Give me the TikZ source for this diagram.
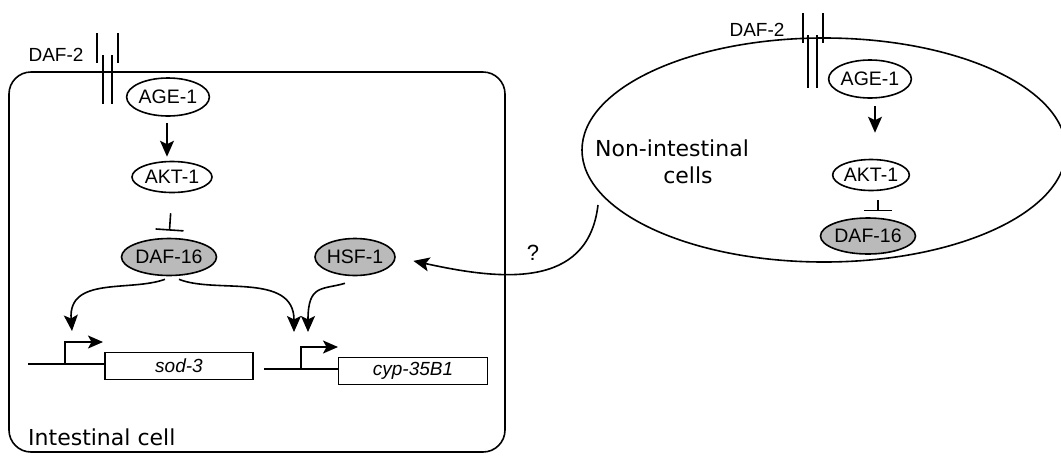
\documentclass[tikz,border=0pt]{standalone}
\usepackage{fontspec}
\setmainfont{Liberation Sans}
\newfontfamily\cellfont{DejaVu Sans}
\usetikzlibrary{shapes.geometric,arrows.meta,calc}
\begin{document}
\begin{tikzpicture}[x=1pt,y=-1pt,
  lw/.style={line width=1.6pt},
  prot/.style={ellipse,draw,lw,inner sep=0pt,font=\fontsize{19.5}{22}\selectfont},
  act/.style={lw,-{Stealth[length=16pt,width=14pt,inset=3.5pt]}},
  inh/.style={lw,-{Bar[width=28pt]}},
  gene/.style={rectangle,draw,lw,inner sep=0pt,font=\fontsize{19}{22}\selectfont\itshape},
  cellname/.style={font=\cellfont\fontsize{22}{24}\selectfont,inner sep=0pt},
  lab/.style={font=\fontsize{19}{22}\selectfont,inner sep=0pt},
  dafgray/.style={fill=black!27}]
\useasboundingbox (0,0) rectangle (1061,456);
% intestinal cell
\draw[lw,rounded corners=22pt] (9,72) rectangle (505,452);
\node[cellname,anchor=west] (intlab) at (28,437) {Intestinal cell};
% non-intestinal cells
\node[ellipse,draw,lw,minimum width=484pt,minimum height=224pt,inner sep=0pt] (nonint) at (824,150) {};
\node[cellname] (nonlab1) at (672,148) {Non-intestinal};
\node[cellname] (nonlab2) at (688,175) {cells};
% receptors
\draw[lw] (97,33) -- (97,63) (118,33) -- (118,63) (103,55) -- (103,104) (112,55) -- (112,104);
\draw[lw] (803,13) -- (803,43) (823,13) -- (823,43) (808,35) -- (808,88) (817,35) -- (817,88);
\node[lab] (daf2L) at (56,55) {DAF-2};
\node[lab] (daf2R) at (757,30) {DAF-2};
% left pathway
\node[prot,minimum width=82pt,minimum height=38pt] (age1L) at (168,97) {AGE-1};
\node[prot,minimum width=80pt,minimum height=31pt] (akt1L) at (172,177) {AKT-1};
\node[prot,dafgray,minimum width=74pt,minimum height=37pt] (daf16L) at (169,257) {DAF-16};
\node[prot,dafgray,minimum width=80pt,minimum height=37pt] (hsf1) at (355,257) {HSF-1};
\draw[act,shorten <=6pt,shorten >=4pt] (age1L.south -| 167,0) -- (akt1L.north -| 167,0);
\draw[inh,shorten <=20pt,shorten >=7pt] (akt1L.south) -- (daf16L.north);
% genes
\node[gene,minimum width=148pt,minimum height=27pt] (sod3) at (179,366) {sod-3};
\node[gene,minimum width=149pt,minimum height=27pt] (cyp) at (413,371) {cyp-35B1};
\coordinate (sodL) at (28,364);
\coordinate (cypL) at (264,369);
\draw[lw] (sodL) -- (sod3.west |- sodL);
\draw[lw] (cypL) -- (cyp.west |- cypL);
\coordinate (sodP) at (65,364);
\coordinate (cypP) at (301,369);
\draw[lw,-{Stealth[length=15pt,width=13pt,inset=3.5pt]}] (sodP) -- (65,342) -- (103,342);
\draw[lw,-{Stealth[length=15pt,width=13pt,inset=3.5pt]}] (cypP) -- (301,347) -- (338,347);
% regulation curves
\coordinate (dL) at ($(daf16L.south)+(-4,3)$);
\coordinate (dR) at ($(daf16L.south)+(10,3)$);
\coordinate (hS) at ($(hsf1.south)+(-10,7)$);
\coordinate (sodT) at (72,331);
\coordinate (cypT1) at (294,332);
\coordinate (cypT2) at (308,332);
\draw[act] (dL) .. controls (130,292) and (68,276) .. (sodT);
\draw[act] (dR) .. controls (215,294) and (294,272) .. (cypT1);
\draw[act] (hS) .. controls (322,290) and (308,284) .. (cypT2);
% right pathway
\node[prot,minimum width=82pt,minimum height=38pt] (age1R) at (870,79) {AGE-1};
\node[prot,minimum width=70pt,minimum height=31pt] (akt1R) at (871,175) {AKT-1};
\node[prot,dafgray,minimum width=64pt,minimum height=36pt] (daf16R) at (868,236) {DAF-16};
\draw[act,shorten <=7pt,shorten >=26pt] (age1R.south -| 875,0) -- (akt1R.north -| 875,0);
\draw[inh,shorten <=9pt,shorten >=6pt] (akt1R.south -| 878,0) -- (daf16R.north -| 878,0);
% signal from non-intestinal cells
\coordinate (qS) at (598,205);
\draw[act,shorten >=18pt] (qS) .. controls (588,290) and (500,280) .. (hsf1.east);
\node[lab,font=\fontsize{22}{24}\selectfont] (q) at (533,253) {?};
\end{tikzpicture}
\end{document}
